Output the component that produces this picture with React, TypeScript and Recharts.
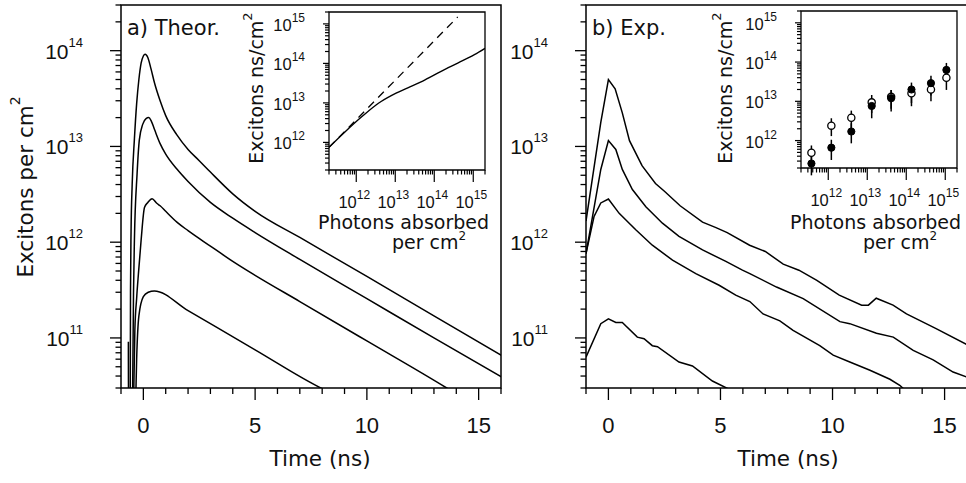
import React from "react";
import {
  LineChart,
  Line,
  XAxis,
  YAxis,
  ReferenceArea,
  ScatterChart,
  Scatter,
  ErrorBar,
  Customized,
} from "recharts";

const FONT = "'DejaVu Sans', sans-serif";
const NUM_FONT = "'Liberation Sans', Arial, sans-serif";

// ---------- Panel a) Theory: time (ns) and excitons per cm^2 ----------
const theoryT1 = [-0.67, -0.665, -0.59, -0.575, -0.55, -0.5, -0.4, -0.3, -0.2, -0.1, 0.0, 0.08, 0.2, 0.34, 0.5, 0.75, 1.0, 1.5, 2.0, 2.5, 3.0, 4.0, 5.0, 7.0, 10.0, 13.0, 16.2];
const theoryN1 = [9.1e10, 1e10, 1e10, 3e11, 1.3e12, 4e12, 1.2e13, 2.8e13, 5e13, 7.4e13, 8.8e13, 9.2e13, 8.5e13, 6.5e13, 4.6e13, 3e13, 2.1e13, 1.32e13, 9.3e12, 7.1e12, 5.4e12, 3.2e12, 2.1e12, 1.12e12, 4.4e11, 1.7e11, 6.2e10];

const theoryT2 = [-0.49, -0.44, -0.4, -0.28, -0.18, -0.03, 0.12, 0.24, 0.35, 0.5, 0.75, 1.0, 1.5, 2.0, 3.0, 4.0, 5.0, 7.0, 10.0, 13.0, 16.2];
const theoryN2 = [1.5e10, 3e11, 1.05e12, 5.2e12, 1.17e13, 1.7e13, 1.95e13, 2e13, 1.85e13, 1.5e13, 1.07e13, 8.3e12, 5.8e12, 4.3e12, 2.6e12, 1.78e12, 1.26e12, 6.6e11, 2.57e11, 1e11, 3.7e10];

const theoryT3 = [-0.45, -0.38, -0.3, -0.22, -0.1, 0.05, 0.2, 0.39, 0.6, 0.75, 1.0, 1.5, 2.0, 3.0, 4.0, 5.0, 7.0, 10.0, 13.57, 14.0];
const theoryN3 = [1.5e10, 1.2e11, 2.6e11, 4.7e11, 1.05e12, 2.3e12, 2.6e12, 2.85e12, 2.55e12, 2.4e12, 2.1e12, 1.62e12, 1.32e12, 9.1e11, 6.3e11, 4.5e11, 2.4e11, 9.3e10, 3e10, 2.6e10];

const theoryT4 = [-0.36, -0.3, -0.2, 0.0, 0.22, 0.49, 2.0, 5.0, 8.0, 8.2];
const theoryN4 = [1.5e10, 6e10, 1.7e11, 2.7e11, 3e11, 3.1e11, 1.93e11, 7.5e10, 2.95e10, 2.8e10];

// ---------- Panel b) Experiment ----------
const expT1 = [-1.0, -0.34, 0, 0.3, 0.62, 0.94, 1.5, 2.1, 2.5, 3.2, 4.2, 4.8, 5.3, 6.3, 7.0, 7.8, 8.5, 9.3, 10.3, 11.3, 11.6, 11.95, 12.7, 13.3, 14.6, 16.0];
const expN1 = [1.66e12, 1.78e13, 5e13, 4e13, 2.24e13, 1.15e13, 6.3e12, 4.1e12, 3.4e12, 2.4e12, 1.62e12, 1.42e12, 1.26e12, 9.3e11, 8e11, 5.9e11, 5.1e11, 4e11, 2.8e11, 2.2e11, 2.2e11, 2.6e11, 2.2e11, 1.78e11, 1.26e11, 8.5e10];

const expT2 = [-1.0, -0.34, 0, 0.33, 0.62, 1.07, 1.67, 2.41, 3.15, 4.2, 5.24, 5.98, 6.31, 7.5, 8.69, 10.33, 10.77, 11.96, 12.71, 13.6, 14.49, 15.38, 16.0];
const expN2 = [7.6e11, 5.75e12, 1.15e13, 9.3e12, 5.75e12, 3.55e12, 2.34e12, 1.58e12, 1.15e12, 8.3e11, 6.3e11, 5.1e11, 4.7e11, 3.4e11, 2.57e11, 1.48e11, 1.41e11, 1.12e11, 1.02e11, 7.4e10, 5.9e10, 4.4e10, 3.9e10];

const expT3 = [-1.0, -0.64, -0.34, 0, 0.48, 1.22, 1.96, 2.86, 3.9, 4.94, 5.68, 6.31, 6.9, 7.65, 8.24, 9.43, 10.03, 10.77, 11.67, 12.56, 13.0, 13.2];
const expN3 = [7.6e11, 1.86e12, 2.57e12, 2.82e12, 2e12, 1.35e12, 9.3e11, 6.5e11, 4.7e11, 3.55e11, 2.8e11, 2.4e11, 1.78e11, 1.51e11, 1.2e11, 8.3e10, 6.6e10, 5.6e10, 4.6e10, 3.7e10, 3.2e10, 2.9e10];

const expT4 = [-1.0, -0.34, 0, 0.33, 0.62, 1.29, 1.59, 1.96, 2.19, 3.15, 3.75, 4.64, 5.4];
const expN4 = [6.3e10, 1.41e11, 1.58e11, 1.45e11, 1.45e11, 1.02e11, 9.8e10, 8.3e10, 8.1e10, 5.6e10, 5.1e10, 3.55e10, 2.9e10];

// ---------- Inset a): integrated excitons vs photons absorbed ----------
const insetSolidX = [2e11, 5.2e11, 1.4e12, 3.7e12, 8.1e12, 2.1e13, 5.8e13, 1.5e14, 4e14, 1.07e15, 2e15];
const insetSolidY = [7.5e11, 1.86e12, 4.5e12, 9.8e12, 1.55e13, 2.4e13, 3.85e13, 6.3e13, 1.02e14, 1.66e14, 2.4e14];
const insetDashX = [2e11, 4e14];
const insetDashY = [7.5e11, 1.5e15];

// ---------- Inset b): measured points ----------
const pointsX = [3.7e11, 1.2e12, 3.9e12, 1.3e13, 4.1e13, 1.36e14, 4.3e14, 1.07e15];
const filledY = [2.6e11, 6.6e11, 1.7e12, 7.6e12, 1.2e13, 2e13, 2.9e13, 6.3e13];
const filledLo = [1.3e11, 3.2e11, 8.5e11, 3.7e12, 5.5e12, 9e12, 1.4e13, 3.4e13];
const filledHi = [4e11, 1.05e12, 2.75e12, 1.1e13, 1.95e13, 3e13, 4.5e13, 9.5e13];
const openY = [4.9e11, 2.4e12, 3.8e12, 9.4e12, 1.3e13, 1.6e13, 2e13, 4e13];
const openLo = [2.6e11, 1.3e12, 2e12, 5e12, 6.5e12, 7.5e12, 1e13, 1.95e13];
const openHi = [7.5e11, 3.7e12, 5.8e12, 1.45e13, 1.95e13, 2.5e13, 3.1e13, 5.8e13];

// ---------- Ticks ----------
const timeTicks = [-1, 0, 1, 2, 3, 4, 5, 6, 7, 8, 9, 10, 11, 12, 13, 14, 15, 16];
const timeMajor = [0, 5, 10, 15];

const logTicks = (lo: number, hi: number) => {
  const out: number[] = [];
  for (let e = Math.floor(Math.log10(lo)); e <= Math.ceil(Math.log10(hi)); e++) {
    for (let m = 1; m < 10; m++) {
      const v = m * Math.pow(10, e);
      if (v >= lo * 0.999 && v <= hi * 1.001) out.push(v);
    }
  }
  return out;
};
const mainYTicks = logTicks(3e10, 3e14);
const insetTicks = logTicks(2e11, 2e15);

const zipT = (t: number[], v: number[]) => t.map((x, i) => ({ t: x, v: v[i] }));
const zipXY = (x: number[], y: number[]) => x.map((a, i) => ({ x: a, y: y[i] }));
const zipErr = (x: number[], y: number[], lo: number[], hi: number[]) =>
  x.map((a, i) => ({ x: a, y: y[i], err: [y[i] - lo[i], hi[i] - y[i]] }));

const isMajorLog = (v: number) => Math.abs(Math.log10(v) - Math.round(Math.log10(v))) < 1e-6;

// ---------- Tick renderers ----------
function TimeTick(p: any) {
  const { x, y, payload } = p;
  const v = payload.value;
  const major = timeMajor.includes(v);
  return (
    <g>
      <line x1={x} x2={x} y1={y} y2={y + (major ? 12 : 6)} stroke="#000" strokeWidth={1.3} />
      {major && (
        <text x={x} y={y + 45} textAnchor="middle" fontFamily={NUM_FONT} fontSize={22} fill="#111">
          {v}
        </text>
      )}
    </g>
  );
}

// axisX: the plot's left edge in the chart's own coordinates (= YAxis width)
function MainYTick(p: any) {
  const { x, y, payload, axisX } = p;
  const v = payload.value;
  const major = isMajorLog(v);
  const exp = Math.round(Math.log10(v));
  return (
    <g>
      <line x1={x} x2={x - (major ? 11 : 5.5)} y1={y} y2={y} stroke="#000" strokeWidth={1.3} />
      {major && (
        <text x={axisX - 38} y={y + 8} textAnchor="end" fontFamily={NUM_FONT} fontSize={21} fill="#111">
          10
          <tspan dy={-12} fontSize={13}>
            {exp}
          </tspan>
        </text>
      )}
    </g>
  );
}

function InsetYTick(p: any) {
  const { x, y, payload, axisX } = p;
  const v = payload.value;
  const major = isMajorLog(v);
  const exp = Math.round(Math.log10(v));
  return (
    <g>
      <line x1={x} x2={x - (major ? 6 : 4)} y1={y} y2={y} stroke="#000" strokeWidth={1.2} />
      {major && (
        <text x={axisX - 24} y={y + 7} textAnchor="end" fontFamily={NUM_FONT} fontSize={16.5} fill="#111">
          10
          <tspan dy={-9} fontSize={12}>
            {exp}
          </tspan>
        </text>
      )}
    </g>
  );
}

function InsetXTick(p: any) {
  const { x, y, payload } = p;
  const v = payload.value;
  const major = isMajorLog(v);
  const exp = Math.round(Math.log10(v));
  return (
    <g>
      <line x1={x} x2={x} y1={y} y2={y + (major ? 12 : 4.5)} stroke="#000" strokeWidth={1.2} />
      {major && (
        <text x={x - 2} y={y + 38} textAnchor="middle" fontFamily={NUM_FONT} fontSize={16.5} fill="#111">
          10
          <tspan dy={-9} fontSize={12}>
            {exp}
          </tspan>
        </text>
      )}
    </g>
  );
}

// ---------- Free text overlays ----------
function MainTexts({ title, showYLabel, timeX }: { title: string; showYLabel: boolean; timeX: number }) {
  return (
    <g fill="#111">
      <text x={127} y={35} fontSize={21} fontFamily={FONT}>
        {title}
      </text>
      <text x={timeX} y={466} fontSize={21.5} textAnchor="middle" fontFamily={FONT}>
        Time (ns)
      </text>
      {showYLabel && (
        <text x={33} y={187} transform="rotate(-90, 33, 187)" fontSize={21.5} textAnchor="middle" fontFamily={FONT}>
          Excitons per cm
          <tspan dy={-13} fontSize={14}>
            2
          </tspan>
        </text>
      )}
    </g>
  );
}

function InsetTexts({ photonsX, perX, yLabelX }: { photonsX: number; perX: number; yLabelX: number }) {
  return (
    <g fill="#111">
      <text x={yLabelX} y={88} transform={`rotate(-90, ${yLabelX}, 88)`} fontSize={19} textAnchor="middle" fontFamily={FONT}>
        Excitons ns/cm
        <tspan dy={-11} fontSize={13}>
          2
        </tspan>
      </text>
      <text x={photonsX} y={229} fontSize={19} fontFamily={FONT}>
        Photons absorbed
      </text>
      <text x={perX} y={249} fontSize={19} fontFamily={FONT}>
        per cm
        <tspan dy={-9} fontSize={12}>
          2
        </tspan>
      </text>
    </g>
  );
}

function MainPanel({
  left,
  width,
  marginRight,
  series,
  smooth,
  title,
  showYLabel,
  timeX,
}: {
  left: number;
  width: number;
  marginRight: number;
  series: { t: number; v: number }[][];
  smooth: boolean;
  title: string;
  showYLabel: boolean;
  timeX: number;
}) {
  const yAxisWidth = 121;
  return (
    <div style={{ position: "absolute", left, top: 0 }}>
      <LineChart width={width} height={483} margin={{ top: 5, right: marginRight, bottom: 0, left: 0 }}>
        <XAxis
          dataKey="t"
          type="number"
          domain={[-1, 16]}
          ticks={timeTicks}
          interval={0}
          allowDataOverflow
          height={95}
          tickSize={0}
          tickMargin={0}
          tickLine={false}
          axisLine={false}
          tick={(p: any) => <TimeTick {...p} />}
        />
        <YAxis
          type="number"
          scale="log"
          domain={[3e10, 3e14]}
          ticks={mainYTicks}
          interval={0}
          allowDataOverflow
          width={yAxisWidth}
          tickSize={0}
          tickMargin={0}
          tickLine={false}
          axisLine={false}
          tick={(p: any) => <MainYTick {...p} axisX={yAxisWidth} />}
        />
        <ReferenceArea x1={-1} x2={16} y1={3e10} y2={3e14} fill="none" fillOpacity={0} stroke="#000" strokeWidth={1.5} />
        {series.map((d, i) => (
          <Line
            key={i}
            data={d}
            dataKey="v"
            type={smooth ? "monotone" : "linear"}
            stroke="#000"
            strokeWidth={1.5}
            dot={false}
            isAnimationActive={false}
          />
        ))}
        <Customized component={<MainTexts title={title} showYLabel={showYLabel} timeX={timeX} />} />
      </LineChart>
    </div>
  );
}

export default function App() {
  const theory = [zipT(theoryT1, theoryN1), zipT(theoryT2, theoryN2), zipT(theoryT3, theoryN3), zipT(theoryT4, theoryN4)];
  const exp = [zipT(expT1, expN1), zipT(expT2, expN2), zipT(expT3, expN3), zipT(expT4, expN4)];
  const solid = zipXY(insetSolidX, insetSolidY);
  const dashed = zipXY(insetDashX, insetDashY);
  const filled = zipErr(pointsX, filledY, filledLo, filledHi);
  const open = zipErr(pointsX, openY, openLo, openHi);
  const insetAW = 99;
  const insetBW = 101;

  return (
    <div
      style={{
        position: "absolute",
        left: 0,
        top: 0,
        width: 966,
        height: 483,
        overflow: "hidden",
        background: "#fff",
      }}
    >
      <MainPanel left={0} width={520} marginRight={19} series={theory} smooth title="a) Theor." showYLabel timeX={320} />
      <MainPanel left={465} width={502} marginRight={0} series={exp} smooth={false} title="b) Exp." showYLabel={false} timeX={788 - 465} />

      {/* Inset a */}
      <div style={{ position: "absolute", left: 230, top: 0 }}>
        <LineChart width={270} height={260} margin={{ top: 12, right: 15, bottom: 10, left: 0 }}>
          <XAxis
            dataKey="x"
            type="number"
            scale="log"
            domain={[2e11, 2e15]}
            ticks={insetTicks}
            interval={0}
            allowDataOverflow
            height={80}
            tickSize={0}
            tickMargin={0}
            tickLine={false}
            axisLine={false}
            tick={(p: any) => <InsetXTick {...p} />}
          />
          <YAxis
            type="number"
            scale="log"
            domain={[2e11, 2e15]}
            ticks={insetTicks}
            interval={0}
            allowDataOverflow
            width={insetAW}
            tickSize={0}
            tickMargin={0}
            tickLine={false}
            axisLine={false}
            tick={(p: any) => <InsetYTick {...p} axisX={insetAW} />}
          />
          <ReferenceArea x1={2e11} x2={2e15} y1={2e11} y2={2e15} fill="none" fillOpacity={0} stroke="#000" strokeWidth={1.3} />
          <Line data={dashed} dataKey="y" type="linear" stroke="#000" strokeWidth={1.3} strokeDasharray="8 6" dot={false} isAnimationActive={false} />
          <Line data={solid} dataKey="y" type="monotone" stroke="#000" strokeWidth={1.4} dot={false} isAnimationActive={false} />
          <Customized component={<InsetTexts photonsX={318 - 230} perX={392 - 230} yLabelX={263 - 230} />} />
        </LineChart>
      </div>

      {/* Inset b */}
      <div style={{ position: "absolute", left: 700, top: 0 }}>
        <ScatterChart width={270} height={260} margin={{ top: 11, right: 13, bottom: 12, left: 0 }}>
          <XAxis
            dataKey="x"
            type="number"
            scale="log"
            domain={[2e11, 2e15]}
            ticks={insetTicks}
            interval={0}
            allowDataOverflow
            height={80}
            tickSize={0}
            tickMargin={0}
            tickLine={false}
            axisLine={false}
            tick={(p: any) => <InsetXTick {...p} />}
          />
          <YAxis
            dataKey="y"
            type="number"
            scale="log"
            domain={[2e11, 2e15]}
            ticks={insetTicks}
            interval={0}
            allowDataOverflow
            width={insetBW}
            tickSize={0}
            tickMargin={0}
            tickLine={false}
            axisLine={false}
            tick={(p: any) => <InsetYTick {...p} axisX={insetBW} />}
          />
          <ReferenceArea x1={2e11} x2={2e15} y1={2e11} y2={2e15} fill="none" fillOpacity={0} stroke="#000" strokeWidth={1.3} />
          <Scatter
            data={open}
            isAnimationActive={false}
            shape={(p: any) => <circle cx={p.cx} cy={p.cy} r={3.6} fill="#fff" stroke="#000" strokeWidth={1.3} />}
          >
            <ErrorBar dataKey="err" direction="y" width={0} stroke="#000" strokeWidth={1.5} />
          </Scatter>
          <Scatter
            data={filled}
            isAnimationActive={false}
            shape={(p: any) => <circle cx={p.cx} cy={p.cy} r={3.6} fill="#000" stroke="#000" strokeWidth={1} />}
          >
            <ErrorBar dataKey="err" direction="y" width={0} stroke="#000" strokeWidth={1.5} />
          </Scatter>
          <Customized component={<InsetTexts photonsX={790 - 700} perX={863 - 700} yLabelX={732 - 700} />} />
        </ScatterChart>
      </div>
    </div>
  );
}
